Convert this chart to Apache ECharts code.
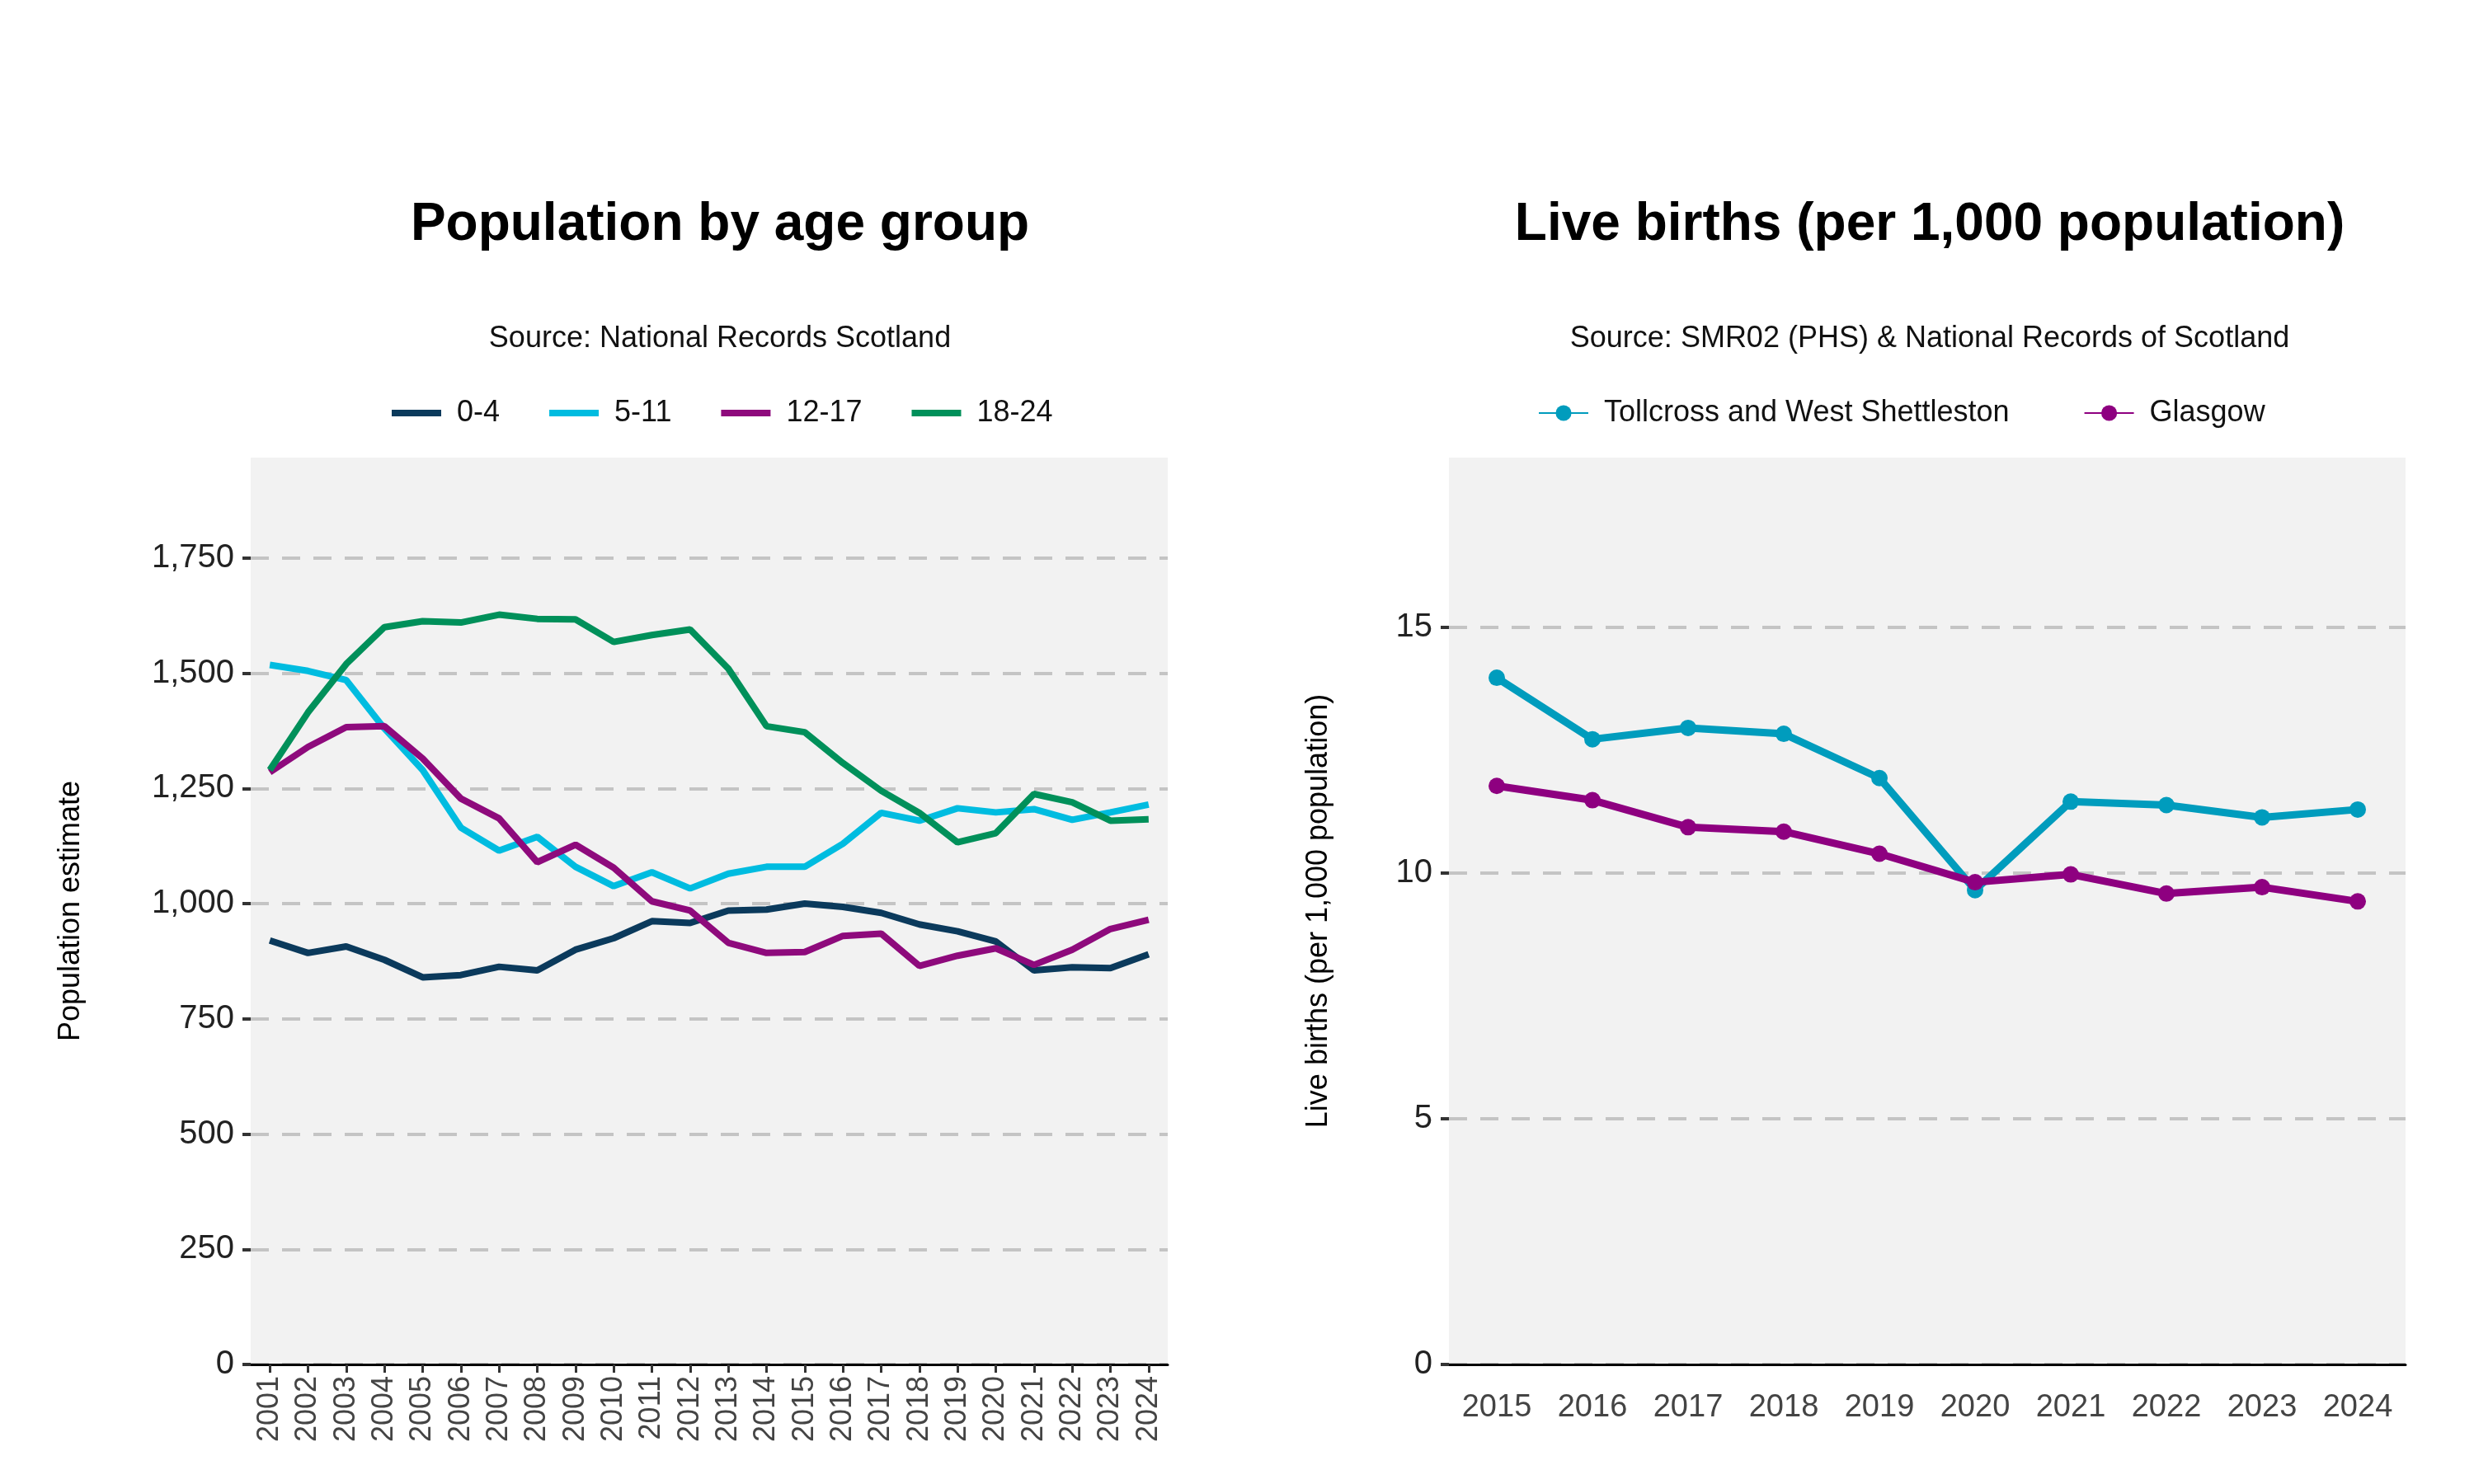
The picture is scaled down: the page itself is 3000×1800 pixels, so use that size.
<!DOCTYPE html>
<html>
<head>
<meta charset="utf-8">
<script src="https://cdn.jsdelivr.net/npm/echarts@6/dist/echarts.min.js"></script>
<style>html,body{margin:0;background:#fff}#main{width:3000px;height:1800px}</style>
</head>
<body>
<div id="main"></div>
<script>
var years = ['2001','2002','2003','2004','2005','2006','2007','2008','2009','2010','2011','2012','2013','2014','2015','2016','2017','2018','2019','2020','2021','2022','2023','2024'];
var age0to4 = [920, 893, 907, 878, 840, 845, 863, 855, 900, 925, 962, 958, 985, 987, 1000, 993, 980, 955, 940, 918, 855, 862, 860, 890];
var age5to11 = [1518, 1505, 1485, 1380, 1290, 1165, 1115, 1145, 1080, 1038, 1068, 1033, 1065, 1080, 1080, 1130, 1197, 1180, 1207, 1198, 1205, 1182, 1198, 1215];
var age12to17 = [1285, 1340, 1383, 1385, 1315, 1228, 1185, 1090, 1128, 1078, 1005, 985, 915, 893, 895, 930, 935, 865, 887, 903, 867, 900, 945, 965];
var age18to24 = [1290, 1415, 1520, 1600, 1613, 1610, 1627, 1618, 1617, 1568, 1583, 1595, 1510, 1385, 1372, 1305, 1245, 1197, 1133, 1153, 1238, 1220, 1180, 1183];

var birthYears = ['2015','2016','2017','2018','2019','2020','2021','2022','2023','2024'];
var tollcross = [13.97, 12.72, 12.95, 12.83, 11.93, 9.65, 11.45, 11.38, 11.13, 11.29];
var glasgow = [11.77, 11.48, 10.93, 10.84, 10.39, 9.81, 9.97, 9.58, 9.71, 9.42];

var font = 'Liberation Sans';
var mychart = echarts.init(document.getElementById('main'));

function lineSeries(name, data, color, x, extra) {
    var s = {
        name: name, type: 'line', data: data,
        xAxisIndex: x, yAxisIndex: x,
        lineStyle: {color: color, width: 8},
        itemStyle: {color: color},
        showSymbol: false, symbol: 'none'
    };
    return Object.assign(s, extra || {});
}

var split = {show: true, showMaxLine: false, lineStyle: {color: '#c4c4c4', type: [22, 16], width: 4}};
var axLabel = {fontFamily: font, fontSize: 40, color: '#222'};

var option = {
    backgroundColor: '#fff',
    textStyle: {fontFamily: font},
    title: [
        {text: 'Population by age group', left: 868, top: 236, textAlign: 'center',
         textStyle: {fontSize: 64, fontWeight: 'bold', color: '#000', fontFamily: font},
         subtext: 'Source: National Records Scotland', itemGap: 88,
         subtextStyle: {fontSize: 36, color: '#111', fontFamily: font}},
        {text: 'Live births (per 1,000 population)', left: 2335, top: 236, textAlign: 'center',
         textStyle: {fontSize: 64, fontWeight: 'bold', color: '#000', fontFamily: font},
         subtext: 'Source: SMR02 (PHS) & National Records of Scotland', itemGap: 88,
         subtextStyle: {fontSize: 36, color: '#111', fontFamily: font}}
    ],
    legend: [
        {data: ['0-4', '5-11', '12-17', '18-24'], left: 470, top: 478,
         itemWidth: 60, itemHeight: 8, itemGap: 60, icon: 'rect',
         textStyle: {fontSize: 36, color: '#111', fontFamily: font, padding: [0, 0, 0, 14]}},
        {data: ['Tollcross and West Shettleston', 'Glasgow'], left: 1860, top: 478,
         itemWidth: 60, itemHeight: 24, itemGap: 90,
         textStyle: {fontSize: 36, color: '#111', fontFamily: font, padding: [0, 0, 0, 14]}}
    ],
    grid: [
        {left: 304, top: 555, width: 1112, height: 1100, show: true, backgroundColor: '#f2f2f2', borderWidth: 0},
        {left: 1757, top: 555, width: 1160, height: 1100, show: true, backgroundColor: '#f2f2f2', borderWidth: 0}
    ],
    xAxis: [
        {type: 'category', gridIndex: 0, data: years, boundaryGap: true,
         axisLine: {lineStyle: {color: '#000', width: 3}},
         axisTick: {show: true, alignWithLabel: true, length: 10, lineStyle: {color: '#333', width: 3}},
         axisLabel: {rotate: 90, interval: 0, margin: 14, color: '#444', fontFamily: font, fontSize: 36}},
        {type: 'category', gridIndex: 1, data: birthYears, boundaryGap: true,
         axisLine: {lineStyle: {color: '#000', width: 3}},
         axisTick: {show: false},
         axisLabel: {fontFamily: font, fontSize: 38, color: '#444', margin: 34}}
    ],
    yAxis: [
        {type: 'value', gridIndex: 0, min: 0, max: 1968, interval: 250,
         name: 'Population estimate', nameLocation: 'middle', nameGap: 200, nameRotate: 90,
         nameTextStyle: {fontFamily: font, fontSize: 36, color: '#000'},
         axisLine: {show: false},
         axisTick: {show: true, length: 10, lineStyle: {color: '#333', width: 4}},
         axisLabel: Object.assign({showMaxLabel: false, margin: 20,
            formatter: function (v) { return v.toLocaleString('en-GB'); }}, axLabel),
         splitLine: split},
        {type: 'value', gridIndex: 1, min: 0, max: 18.45, interval: 5,
         name: 'Live births (per 1,000 population)', nameLocation: 'middle', nameGap: 140, nameRotate: 90,
         nameTextStyle: {fontFamily: font, fontSize: 36, color: '#000'},
         axisLine: {show: false},
         axisTick: {show: true, length: 10, lineStyle: {color: '#333', width: 4}},
         axisLabel: Object.assign({showMaxLabel: false, margin: 20}, axLabel),
         splitLine: split}
    ],
    series: [
        lineSeries('0-4', age0to4, '#0b3a5c', 0),
        lineSeries('5-11', age5to11, '#00bce0', 0),
        lineSeries('12-17', age12to17, '#8e0a7c', 0),
        lineSeries('18-24', age18to24, '#00905a', 0),
        lineSeries('Tollcross and West Shettleston', tollcross, '#009cbd', 1,
            {symbol: 'circle', showSymbol: true, symbolSize: 20, lineStyle: {color: '#009cbd', width: 9}}),
        lineSeries('Glasgow', glasgow, '#8e0080', 1,
            {symbol: 'circle', showSymbol: true, symbolSize: 20, lineStyle: {color: '#8e0080', width: 9}})
    ]
};
mychart.setOption(option);
</script>
</body>
</html>
